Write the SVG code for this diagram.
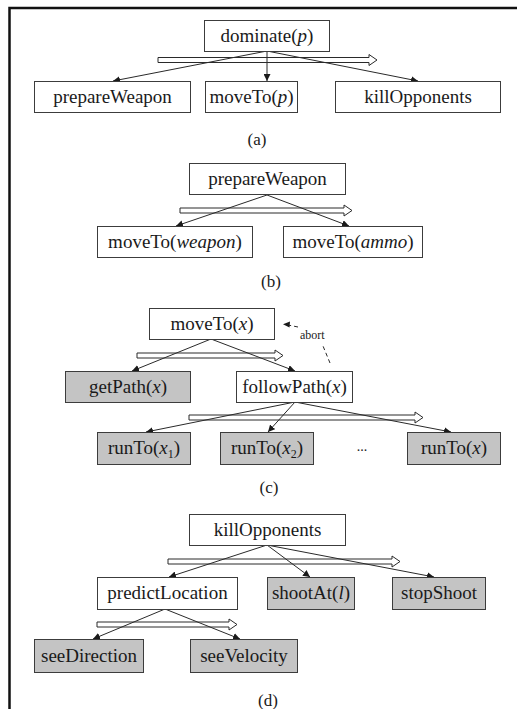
<svg xmlns="http://www.w3.org/2000/svg" width="517" height="709" viewBox="0 0 517 709">
<style>
.box{fill:#fff;stroke:#3c3c3c;stroke-width:1}
.grey{fill:#c4c4c4;stroke:#3c3c3c;stroke-width:1}
.t{font-family:"Liberation Serif","Times New Roman",serif;font-size:19px;fill:#1a1a1a;text-anchor:middle}
.cap{font-family:"Liberation Serif","Times New Roman",serif;font-size:17px;fill:#1a1a1a;text-anchor:middle}
.i{font-style:italic}
.con{stroke:#2a2a2a;stroke-width:1;fill:none;marker-end:url(#ah)}
.dash{stroke:#2a2a2a;stroke-width:1;fill:none;stroke-dasharray:4 3}
.seq{fill:#fff;stroke:#2a2a2a;stroke-width:1}
</style>
<defs>
<marker id="ah" viewBox="0 0 10 10" refX="10" refY="5" markerWidth="7" markerHeight="7" markerUnits="userSpaceOnUse" orient="auto">
<path d="M0,0 L10,5 L0,10 z" fill="#1a1a1a"/>
</marker>
</defs>
<rect width="517" height="709" fill="#fff"/>
<g id="frame">
<path d="M9.5,709 L9.5,8 L517,8" fill="none" stroke="#111" stroke-width="2.5"/>
</g>

<g id="sequence-arrows">
<polygon class="seq" points="158,57.5 369,57.5 369,54.5 377,60 369,65.5 369,62.5 158,62.5"/>
<polygon class="seq" points="180,208 344,208 344,205 352,210.5 344,216 344,213 180,213"/>
<polygon class="seq" points="137,353 275,353 275,350 283,355.5 275,361 275,358 137,358"/>
<polygon class="seq" points="189,415 415,415 415,412 423,417.5 415,423 415,420 189,420"/>
<polygon class="seq" points="168,559 392,559 392,556 400,561.5 392,567 392,564 168,564"/>
<polygon class="seq" points="97,622 229,622 229,619 237,624.5 229,630 229,627 97,627"/>
</g>

<g id="connectors">
<line class="con" x1="267" y1="51" x2="113" y2="81"/>
<line class="con" x1="267" y1="51" x2="267" y2="81"/>
<line class="con" x1="267" y1="51" x2="418" y2="81"/>
<line class="con" x1="267" y1="195" x2="176" y2="226"/>
<line class="con" x1="267" y1="195" x2="349" y2="226"/>
<line class="con" x1="211" y1="339" x2="132" y2="371"/>
<line class="con" x1="211" y1="339" x2="295" y2="371"/>
<line class="con" x1="295" y1="402" x2="146" y2="432"/>
<line class="con" x1="295" y1="402" x2="268" y2="432"/>
<line class="con" x1="295" y1="402" x2="451" y2="432"/>
<line class="con" x1="267" y1="545" x2="169" y2="577"/>
<line class="con" x1="267" y1="545" x2="310" y2="577"/>
<line class="con" x1="267" y1="545" x2="434" y2="577"/>
<line class="con" x1="165" y1="609" x2="93" y2="639"/>
<line class="con" x1="165" y1="609" x2="240" y2="639"/>
<line class="dash" x1="330" y1="363" x2="323" y2="346"/>
<line class="dash" x1="298" y1="327" x2="288" y2="325"/>
<path d="M283,324.2 L290,321.5 L289.5,327.5 z" fill="#1a1a1a"/>
<text x="300" y="339" font-family="Liberation Serif, Times New Roman, serif" font-size="12" fill="#1a1a1a">abort</text>
</g>

<g id="a-dominate"><rect class="box" x="204.5" y="20.5" width="125" height="31"/><text class="t" x="267" y="42">dominate(<tspan class="i">p</tspan>)</text></g>
<g id="a-prepareWeapon"><rect class="box" x="34.5" y="81.5" width="156" height="31"/><text class="t" x="112.5" y="103">prepareWeapon</text></g>
<g id="a-moveTo"><rect class="box" x="205.5" y="81.5" width="92" height="31"/><text class="t" x="251.5" y="103">moveTo(<tspan class="i">p</tspan>)</text></g>
<g id="a-killOpponents"><rect class="box" x="335.5" y="81.5" width="165" height="31"/><text class="t" x="418" y="103">killOpponents</text></g>
<text class="cap" x="257" y="145">(a)</text>

<g id="b-prepareWeapon"><rect class="box" x="189.5" y="163.5" width="156" height="31"/><text class="t" x="267.5" y="185">prepareWeapon</text></g>
<g id="b-moveToWeapon"><rect class="box" x="97.5" y="226.5" width="155" height="31"/><text class="t" x="175" y="248">moveTo(<tspan class="i">weapon</tspan>)</text></g>
<g id="b-moveToAmmo"><rect class="box" x="283.5" y="226.5" width="139" height="31"/><text class="t" x="353" y="248">moveTo(<tspan class="i">ammo</tspan>)</text></g>
<text class="cap" x="271" y="287">(b)</text>

<g id="c-moveTo"><rect class="box" x="149.5" y="308.5" width="125" height="31"/><text class="t" x="212" y="330">moveTo(<tspan class="i">x</tspan>)</text></g>
<g id="c-getPath"><rect class="grey" x="65.5" y="371.5" width="125" height="31"/><text class="t" x="128" y="393">getPath(<tspan class="i">x</tspan>)</text></g>
<g id="c-followPath"><rect class="box" x="236.5" y="371.5" width="116" height="31"/><text class="t" x="294.5" y="393">followPath(<tspan class="i">x</tspan>)</text></g>
<g id="c-runTo1"><rect class="grey" x="97.5" y="432.5" width="93" height="32"/><text class="t" x="144" y="454">runTo(<tspan class="i">x</tspan><tspan font-size="12" dy="4">1</tspan><tspan dy="-4">)</tspan></text></g>
<g id="c-runTo2"><rect class="grey" x="220.5" y="432.5" width="93" height="32"/><text class="t" x="267" y="454">runTo(<tspan class="i">x</tspan><tspan font-size="12" dy="4">2</tspan><tspan dy="-4">)</tspan></text></g>
<text x="362" y="451" font-family="Liberation Serif, Times New Roman, serif" font-size="14" fill="#1a1a1a" text-anchor="middle">...</text>
<g id="c-runToX"><rect class="grey" x="407.5" y="432.5" width="93" height="32"/><text class="t" x="454" y="454">runTo(<tspan class="i">x</tspan>)</text></g>
<text class="cap" x="269" y="493">(c)</text>

<g id="d-killOpponents"><rect class="box" x="189.5" y="514.5" width="156" height="31"/><text class="t" x="267.5" y="536">killOpponents</text></g>
<g id="d-predictLocation"><rect class="box" x="97.5" y="577.5" width="140" height="32"/><text class="t" x="167.5" y="599">predictLocation</text></g>
<g id="d-shootAt"><rect class="grey" x="267.5" y="577.5" width="87" height="32"/><text class="t" x="311" y="599">shootAt(<tspan class="i">l</tspan>)</text></g>
<g id="d-stopShoot"><rect class="grey" x="392.5" y="577.5" width="93" height="32"/><text class="t" x="439" y="599">stopShoot</text></g>
<g id="d-seeDirection"><rect class="grey" x="34.5" y="639.5" width="109" height="33"/><text class="t" x="89" y="662">seeDirection</text></g>
<g id="d-seeVelocity"><rect class="grey" x="190.5" y="639.5" width="107" height="33"/><text class="t" x="244" y="662">seeVelocity</text></g>
<text class="cap" x="268" y="706">(d)</text>
</svg>
